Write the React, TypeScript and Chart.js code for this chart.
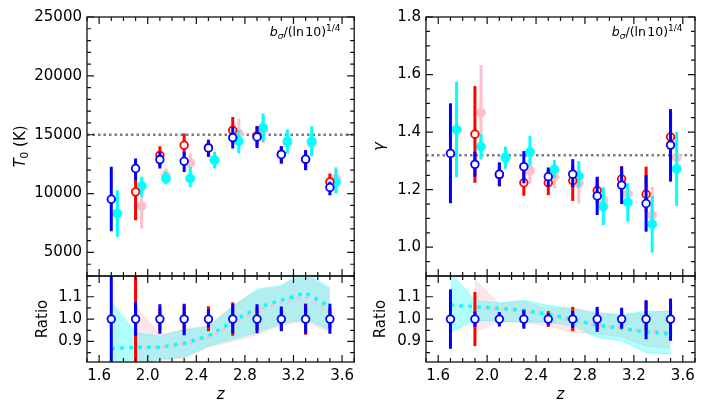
import { useEffect, useRef } from "react";
import { Chart, registerables } from "chart.js";

const FONT = "'DejaVu Sans', 'Liberation Sans', sans-serif";

// redshift bins; the pink / cyan runs are nudged right by SHIFT
const zBins = [1.7, 1.9, 2.1, 2.3, 2.5, 2.7, 2.9, 3.1, 3.3, 3.5];
const zBinsRed = [1.9, 2.1, 2.3, 2.5, 2.7, 2.9, 3.1, 3.3, 3.5];
const SHIFT = 0.05;

const zRange = [1.5, 3.7];
const zMajor = [1.6, 2.0, 2.4, 2.8, 3.2, 3.6];
const zLabels = ["1.6", "2.0", "2.4", "2.8", "3.2", "3.6"];
const zMinor = [1.5, 1.7, 1.8, 1.9, 2.1, 2.2, 2.3, 2.5, 2.6, 2.7, 2.9, 3.0, 3.1, 3.3, 3.4, 3.5, 3.7];

// ---- T0 panel
const t0Range = [3000, 25000];
const t0Major = [5000, 10000, 15000, 20000, 25000];
const t0Labels = ["5000", "10000", "15000", "20000", "25000"];
const t0Minor = [3000, 4000, 6000, 7000, 8000, 9000, 11000, 12000, 13000, 14000, 16000, 17000, 18000, 19000, 21000, 22000, 23000, 24000];
const t0Ref = 15000;

const t0Blue = [9520, 12130, 12890, 12750, 13880, 14760, 14810, 13320, 12920, 10520];
const t0BlueHi = [2750, 850, 650, 790, 650, 910, 910, 700, 760, 480];
const t0BlueLo = [2710, 1000, 760, 920, 760, 930, 930, 770, 930, 660];

const t0Red = [10150, 13260, 14110, 13900, 15380, 14900, 13350, 12900, 10990];
const t0RedHi = [1100, 770, 990, 700, 1130, 850, 700, 800, 710];
const t0RedLo = [2410, 900, 850, 800, 1130, 900, 800, 900, 430];

const t0Pink = [8930, 11560, 12600, 12900, 15100, 15400, 14300, 14250, 11280];
const t0PinkHi = [1780, 570, 800, 650, 1270, 1150, 950, 1000, 980];
const t0PinkLo = [1890, 560, 900, 700, 1140, 1100, 900, 950, 990];

const t0Cyan = [8310, 10630, 11280, 11280, 12840, 14450, 15580, 14450, 14450, 11000];
const t0CyanHi = [1980, 790, 580, 990, 700, 930, 1220, 990, 1270, 1130];
const t0CyanLo = [1980, 900, 480, 710, 700, 1050, 1190, 1050, 1280, 990];

// ---- gamma panel
const gRange = [0.9, 1.8];
const gMajor = [1.0, 1.2, 1.4, 1.6, 1.8];
const gLabels = ["1.0", "1.2", "1.4", "1.6", "1.8"];
const gMinor = [0.95, 1.05, 1.1, 1.15, 1.25, 1.3, 1.35, 1.45, 1.5, 1.55, 1.65, 1.7, 1.75];
const gRef = 1.32;

const gBlue = [1.326, 1.288, 1.254, 1.28, 1.245, 1.254, 1.178, 1.216, 1.152, 1.355];
const gBlueHi = [0.174, 0.044, 0.041, 0.054, 0.032, 0.052, 0.067, 0.064, 0.099, 0.125];
const gBlueLo = [0.173, 0.043, 0.041, 0.058, 0.035, 0.045, 0.066, 0.066, 0.098, 0.127];

const gRed = [1.393, 1.251, 1.224, 1.224, 1.231, 1.197, 1.237, 1.184, 1.383];
const gRedHi = [0.167, 0.04, 0.045, 0.045, 0.055, 0.045, 0.045, 0.096, 0.085];
const gRedLo = [0.169, 0.04, 0.045, 0.043, 0.07, 0.045, 0.05, 0.06, 0.085];

const gPink = [1.468, 1.31, 1.266, 1.245, 1.222, 1.164, 1.185, 1.112, 1.312];
const gPinkHi = [0.165, 0.04, 0.04, 0.04, 0.045, 0.045, 0.04, 0.098, 0.06];
const gPinkLo = [0.16, 0.04, 0.045, 0.04, 0.07, 0.04, 0.05, 0.05, 0.06];

const gCyan = [1.409, 1.349, 1.312, 1.331, 1.27, 1.247, 1.141, 1.156, 1.08, 1.272];
const gCyanHi = [0.166, 0.044, 0.037, 0.055, 0.033, 0.052, 0.067, 0.064, 0.098, 0.129];
const gCyanLo = [0.166, 0.044, 0.038, 0.05, 0.03, 0.04, 0.064, 0.067, 0.099, 0.128];

// ---- ratio panels
const rRange = [0.808, 1.193];
const rMajor = [0.9, 1.0, 1.1];
const rLabels = ["0.9", "1.0", "1.1"];
const rMinor = [0.85, 0.95, 1.05, 1.15];

const ratioBlue = [1, 1, 1, 1, 1, 1, 1, 1, 1, 1];
const ratioRed = [1, 1, 1, 1, 1, 1, 1, 1, 1];

const rT0BlueHi = [0.3, 0.076, 0.066, 0.069, 0.044, 0.066, 0.066, 0.057, 0.066, 0.069];
const rT0BlueLo = [0.3, 0.075, 0.066, 0.072, 0.036, 0.063, 0.063, 0.054, 0.066, 0.066];
const rT0RedHi = [0.25, 0.05, 0.06, 0.058, 0.076, 0.05, 0.05, 0.07, 0.05];
const rT0RedLo = [0.25, 0.05, 0.06, 0.054, 0.075, 0.05, 0.05, 0.07, 0.04];
const rT0CyanHi = [1.078, 0.939, 0.924, 0.951, 0.966, 1.055, 1.135, 1.152, 1.21, 1.14];
const rT0CyanLo = [0.78, 0.8, 0.82, 0.83, 0.88, 0.91, 0.94, 0.98, 1.0, 0.95];
const rT0CyanMid = [0.868, 0.874, 0.874, 0.892, 0.924, 0.99, 1.05, 1.085, 1.118, 1.054];
const rT0PinkHi = [1.06, 0.93, 0.955, 0.97, 1.06, 1.125, 1.145, 1.2, 1.13];
const rT0PinkLo = [0.79, 0.815, 0.825, 0.875, 0.9, 0.93, 0.975, 0.99, 0.94];
const rT0PinkMid = [0.874, 0.872, 0.89, 0.918, 0.975, 1.04, 1.075, 1.1, 1.035];

const rGBlueHi = [0.133, 0.034, 0.031, 0.042, 0.027, 0.036, 0.055, 0.051, 0.085, 0.092];
const rGBlueLo = [0.133, 0.035, 0.033, 0.043, 0.028, 0.04, 0.057, 0.043, 0.09, 0.097];
const rGRedHi = [0.121, 0.03, 0.038, 0.036, 0.055, 0.045, 0.045, 0.08, 0.07];
const rGRedLo = [0.121, 0.03, 0.035, 0.035, 0.054, 0.045, 0.04, 0.05, 0.07];
const rGCyanHi = [1.21, 1.084, 1.072, 1.084, 1.062, 1.046, 1.025, 1.018, 1.036, 1.033];
const rGCyanLo = [0.94, 0.994, 0.99, 0.987, 0.985, 0.972, 0.917, 0.903, 0.85, 0.843];
const rGCyanMid = [1.063, 1.055, 1.048, 1.04, 1.021, 0.998, 0.973, 0.958, 0.943, 0.935];
const rGPinkHi = [1.175, 1.07, 1.08, 1.045, 1.05, 1.03, 1.02, 1.025, 1.04];
const rGPinkLo = [0.943, 0.99, 0.985, 0.97, 0.94, 0.935, 0.92, 0.88, 0.87];
const rGPinkMid = [1.05, 1.045, 1.038, 1.025, 0.99, 0.975, 0.96, 0.945, 0.94];

const BLUE = "#0000ff";
const RED = "#ff0000";
const PINK = "#ffc0cb";
const CYAN = "#00ffff";
const CYAN_BAND = "rgba(0,255,255,0.3)";
const PINK_BAND = "rgba(255,192,203,0.4)";

// error bars are drawn just before the markers of their own dataset
const errorBars = {
  id: "errorBars",
  beforeDatasetDraw(chart: any, args: any) {
    const ds = chart.data.datasets[args.index];
    if (!ds.errLo) return;
    const { ctx, chartArea: a } = chart;
    const sx = chart.scales.x;
    const sy = chart.scales.y;
    ctx.save();
    ctx.beginPath();
    ctx.rect(a.left, a.top, a.right - a.left, a.bottom - a.top);
    ctx.clip();
    ctx.strokeStyle = ds.errColor;
    ctx.lineWidth = 3;
    ds.data.forEach((p: any, i: number) => {
      const x = sx.getPixelForValue(p.x);
      ctx.beginPath();
      ctx.moveTo(x, sy.getPixelForValue(p.y + ds.errHi[i]));
      ctx.lineTo(x, sy.getPixelForValue(p.y - ds.errLo[i]));
      ctx.stroke();
    });
    ctx.restore();
  },
};

Chart.register(...registerables, errorBars);
Chart.defaults.font.family = FONT;
Chart.defaults.font.size = 15;
Chart.defaults.color = "#000";

// inward ticks on all four sides plus the box
const frame = (yMajor: number[], yMinor: number[]) => ({
  id: "frame",
  afterDatasetsDraw(chart: any) {
    const { ctx, chartArea: a } = chart;
    const sx = chart.scales.x;
    const sy = chart.scales.y;
    ctx.save();
    ctx.strokeStyle = "#111";
    ctx.lineWidth = 1.2;
    ctx.beginPath();
    const xt = (vals: number[], len: number) =>
      vals.forEach((v) => {
        const p = sx.getPixelForValue(v);
        ctx.moveTo(p, a.bottom);
        ctx.lineTo(p, a.bottom - len);
        ctx.moveTo(p, a.top);
        ctx.lineTo(p, a.top + len);
      });
    const yt = (vals: number[], len: number) =>
      vals.forEach((v) => {
        const p = sy.getPixelForValue(v);
        ctx.moveTo(a.left, p);
        ctx.lineTo(a.left + len, p);
        ctx.moveTo(a.right, p);
        ctx.lineTo(a.right - len, p);
      });
    xt(zMajor, 7);
    xt(zMinor, 4);
    yt(yMajor, 7);
    yt(yMinor, 4);
    ctx.stroke();
    ctx.lineWidth = 1.3;
    ctx.strokeRect(a.left, a.top, a.right - a.left, a.bottom - a.top);
    ctx.restore();
  },
});

type Run = { t: string; size: number; italic?: boolean; dy?: number };

function drawRuns(ctx: CanvasRenderingContext2D, runs: Run[], x: number, y: number, align: "right" | "center") {
  const fontOf = (r: Run) => `${r.italic ? "italic " : ""}${r.size}px ${FONT}`;
  let w = 0;
  runs.forEach((r) => {
    ctx.font = fontOf(r);
    w += ctx.measureText(r.t).width;
  });
  let cx = align === "right" ? x - w : x - w / 2;
  ctx.textAlign = "left";
  ctx.textBaseline = "alphabetic";
  runs.forEach((r) => {
    ctx.font = fontOf(r);
    ctx.fillText(r.t, cx, y + (r.dy || 0));
    cx += ctx.measureText(r.t).width;
  });
}

const noteRuns: Run[] = [
  { t: "b", size: 12.5, italic: true },
  { t: "σ", size: 9, italic: true, dy: 2.5 },
  { t: "/(ln\u200a10)", size: 12.5 },
  { t: "1/4", size: 9, dy: -5 },
];

const note = (right: number) => ({
  id: "note",
  afterDraw(chart: any) {
    const ctx = chart.ctx;
    ctx.save();
    ctx.fillStyle = "#000";
    drawRuns(ctx, noteRuns, right, 36, "right");
    ctx.restore();
  },
});

const t0Title = {
  id: "t0Title",
  afterDraw(chart: any) {
    const { ctx, chartArea: a } = chart;
    ctx.save();
    ctx.translate(25, (a.top + a.bottom) / 2);
    ctx.rotate(-Math.PI / 2);
    ctx.fillStyle = "#000";
    drawRuns(ctx, [{ t: "T", size: 15, italic: true }, { t: "0", size: 10.5, dy: 3 }, { t: " (K)", size: 15 }], 0, 0, "center");
    ctx.restore();
  },
};

const pts = (xs: number[], ys: number[], dx = 0) => xs.map((x, i) => ({ x: x + dx, y: ys[i] }));

const errSeries = (xs: number[], ys: number[], lo: number[], hi: number[], color: string, open: boolean, dx = 0, radius?: number) => ({
  type: "scatter",
  data: pts(xs, ys, dx),
  errLo: lo,
  errHi: hi,
  errColor: color,
  showLine: false,
  pointRadius: radius ?? (open ? 3.8 : 4.7),
  pointBorderWidth: open ? 1.8 : 0.5,
  pointBackgroundColor: open ? "#ffffff" : color,
  pointBorderColor: color,
});

const band = (xs: number[], hi: number[], lo: number[], color: string) => [
  { type: "line", data: pts(xs, hi), fill: "+1", backgroundColor: color, borderColor: color, borderWidth: 1, pointRadius: 0, tension: 0 },
  { type: "line", data: pts(xs, lo), fill: false, borderColor: color, borderWidth: 1, pointRadius: 0, tension: 0 },
];

const dotted = (xs: number[], ys: number[], color: string, width: number, dash: number[]) => ({
  type: "line",
  data: pts(xs, ys),
  borderColor: color,
  borderWidth: width,
  borderDash: dash,
  borderCapStyle: "butt",
  pointRadius: 0,
  fill: false,
  tension: 0,
});

// list is given in paint order (first = bottom)
const layered = (list: any[]) => list.map((d, i) => ({ ...d, order: list.length - i }));

// the y axis reserves 14px (half a label + padding) above and below the plot area
const yAxis = (range: number[], major: number[], labels: string[], width: number, title?: { text: string; italic: boolean; pad: number }) => ({
  type: "linear",
  position: "left",
  min: range[0],
  max: range[1],
  bounds: "data",
  grid: { display: false, drawTicks: false },
  border: { display: false },
  ticks: { padding: 5, autoSkip: false, color: "#000", font: { size: 15 }, callback: (_v: any, i: number) => labels[i] },
  afterBuildTicks: (s: any) => {
    s.ticks = major.map((v) => ({ value: v }));
  },
  afterFit: (s: any) => {
    s.width = width;
  },
  title: title
    ? { display: true, text: title.text, color: "#000", font: { size: 15, style: title.italic ? "italic" : "normal" }, padding: { top: title.pad, bottom: 0 } }
    : { display: false },
});

const xHidden = { type: "linear", min: zRange[0], max: zRange[1], bounds: "data", display: false };

const xBottom = {
  type: "linear",
  position: "bottom",
  min: zRange[0],
  max: zRange[1],
  bounds: "data",
  grid: { display: false, drawTicks: false },
  border: { display: false },
  ticks: { padding: 5, autoSkip: false, maxRotation: 0, color: "#000", font: { size: 15 }, callback: (_v: any, i: number) => zLabels[i] },
  afterBuildTicks: (s: any) => {
    s.ticks = zMajor.map((v) => ({ value: v }));
  },
  afterFit: (s: any) => {
    s.height = 53;
  },
  title: { display: true, text: "z", color: "#000", font: { size: 15, style: "italic" }, padding: { top: 0, bottom: 11 } },
};

const baseOptions = (padding: any, x: any, y: any) => ({
  responsive: false,
  animation: false,
  events: [],
  layout: { padding },
  plugins: { legend: { display: false }, tooltip: { enabled: false }, title: { display: false } },
  scales: { x, y },
});

const configT0 = () => ({
  type: "scatter",
  data: {
    datasets: layered([
      dotted(zRange, [t0Ref, t0Ref], "#7a7a7a", 2.5, [2.5, 3]),
      errSeries(zBinsRed, t0Pink, t0PinkLo, t0PinkHi, PINK, false, SHIFT),
      errSeries(zBins, t0Cyan, t0CyanLo, t0CyanHi, CYAN, false, SHIFT),
      errSeries(zBinsRed, t0Red, t0RedLo, t0RedHi, RED, true),
      errSeries(zBins, t0Blue, t0BlueLo, t0BlueHi, BLUE, true),
    ]),
  },
  options: baseOptions({ top: 17, right: 2, bottom: 0, left: 0 }, xHidden, yAxis(t0Range, t0Major, t0Labels, 87)),
  plugins: [frame(t0Major, t0Minor), t0Title, note(340.5)],
});

const configGamma = () => ({
  type: "scatter",
  data: {
    datasets: layered([
      dotted(zRange, [gRef, gRef], "#7a7a7a", 2.5, [2.5, 3]),
      errSeries(zBinsRed, gPink, gPinkLo, gPinkHi, PINK, false, SHIFT),
      errSeries(zBins, gCyan, gCyanLo, gCyanHi, CYAN, false, SHIFT),
      errSeries(zBinsRed, gRed, gRedLo, gRedHi, RED, true),
      errSeries(zBins, gBlue, gBlueLo, gBlueHi, BLUE, true),
    ]),
  },
  options: baseOptions({ top: 17, right: 12, bottom: 0, left: 0 }, xHidden, yAxis(gRange, gMajor, gLabels, 66, { text: "γ", italic: true, pad: 11 })),
  plugins: [frame(gMajor, gMinor), note(322.5)],
});

const configRatio = (
  cyanHi: number[], cyanLo: number[], cyanMid: number[],
  pinkHi: number[], pinkLo: number[], pinkMid: number[],
  redLo: number[], redHi: number[], blueLo: number[], blueHi: number[],
  yWidth: number, titlePad: number, right: number,
) => () => ({
  type: "scatter",
  data: {
    datasets: layered([
      ...band(zBinsRed, pinkHi, pinkLo, PINK_BAND),
      ...band(zBins, cyanHi, cyanLo, CYAN_BAND),
      dotted(zBinsRed, pinkMid, PINK, 3.5, [3.5, 5.5]),
      dotted(zBins, cyanMid, CYAN, 3.5, [3.5, 5.5]),
      errSeries(zBinsRed, ratioRed, redLo, redHi, RED, true, 0, 0),
      errSeries(zBins, ratioBlue, blueLo, blueHi, BLUE, true),
    ]),
  },
  options: baseOptions({ top: 0, right, bottom: 0, left: 0 }, xBottom, yAxis(rRange, rMajor, rLabels, yWidth, { text: "Ratio", italic: false, pad: titlePad })),
  plugins: [frame(rMajor, rMinor)],
});

const configRatioT0 = configRatio(rT0CyanHi, rT0CyanLo, rT0CyanMid, rT0PinkHi, rT0PinkLo, rT0PinkMid, rT0RedLo, rT0RedHi, rT0BlueLo, rT0BlueHi, 87, 34.3, 2);
const configRatioG = configRatio(rGCyanHi, rGCyanLo, rGCyanMid, rGPinkHi, rGPinkLo, rGPinkMid, rGRedLo, rGRedHi, rGBlueLo, rGBlueHi, 66, 11.7, 12);

function Panel(props: { make: () => any; left: number; top: number; width: number; height: number }) {
  const canvasRef = useRef<HTMLCanvasElement>(null);

  useEffect(() => {
    if (!canvasRef.current) return;
    const chart = new Chart(canvasRef.current, props.make());
    return () => {
      chart.destroy();
    };
  }, []);

  const { left, top, width, height } = props;
  return <canvas ref={canvasRef} width={width} height={height} style={{ position: "absolute", left, top, width, height }} />;
}

export default function App() {
  return (
    <div style={{ position: "fixed", left: 0, top: 0, width: 707, height: 415, background: "#fff" }}>
      <Panel make={configT0} left={0} top={0} width={360} height={290} />
      <Panel make={configGamma} left={360} top={0} width={347} height={290} />
      <Panel make={configRatioT0} left={0} top={262} width={360} height={153} />
      <Panel make={configRatioG} left={360} top={262} width={347} height={153} />
    </div>
  );
}
